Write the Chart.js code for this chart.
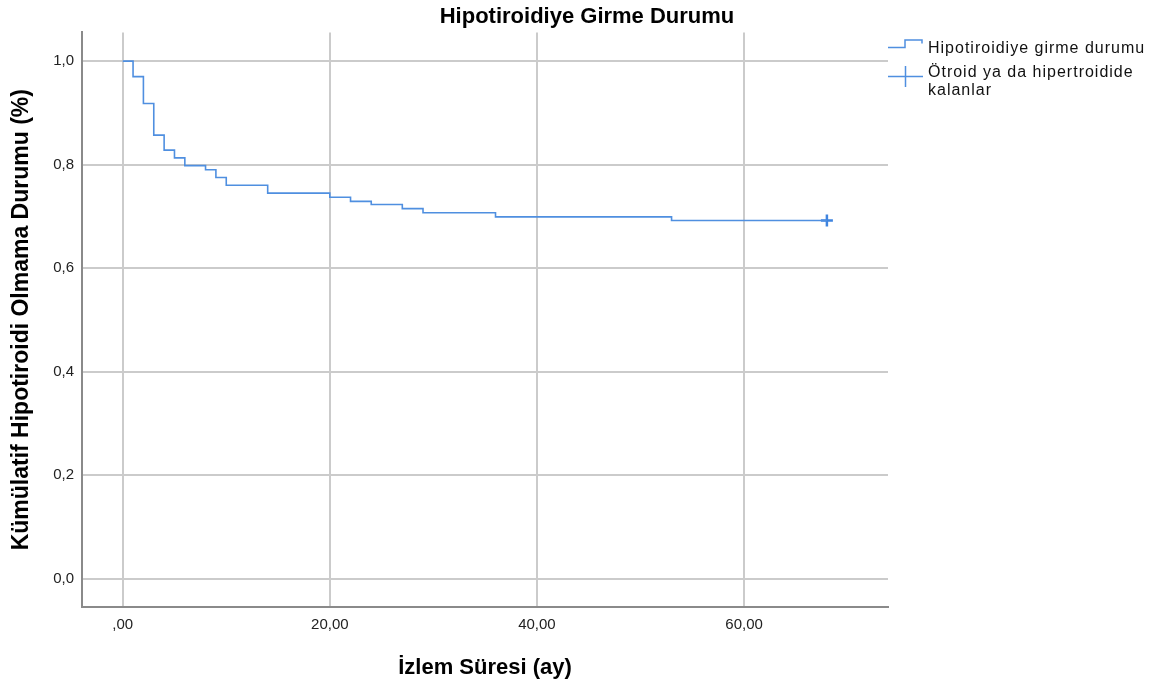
<!DOCTYPE html>
<html>
<head>
<meta charset="utf-8">
<script src="https://cdn.jsdelivr.net/npm/chart.js@4"></script>
<style>
  html, body { margin: 0; padding: 0; background: #ffffff; }
  #wrap { width: 1163px; height: 684px; position: relative; }
</style>
</head>
<body>
<div id="wrap"><canvas id="c" width="1163" height="684"></canvas></div>
<script>
// ---- data ----
const chartTitle = 'Hipotiroidiye Girme Durumu';
const xAxisTitle = 'İzlem Süresi (ay)';
const yAxisTitle = 'Kümülatif Hipotiroidi Olmama Durumu (%)';
const seriesLabel = 'Hipotiroidiye girme durumu';
const censorLabel = ['Ötroid ya da hipertroidide', 'kalanlar'];

const eventTimes = [0, 1, 2, 3, 4, 5, 6, 8, 9, 10, 14, 20, 22, 24, 27, 29, 36, 53, 68];
const survival   = [1.0, 0.970, 0.918, 0.857, 0.828, 0.813, 0.798, 0.790, 0.775, 0.760,
                    0.745, 0.737, 0.729, 0.723, 0.715, 0.707, 0.699, 0.692, 0.692];
const censorTimes  = [68];
const censorValues = [0.692];

const xTickValues = [0, 20, 40, 60];
const xTickLabels = [',00', '20,00', '40,00', '60,00'];
const yTickValues = [0, 0.2, 0.4, 0.6, 0.8, 1.0];
const yTickLabels = ['0,0', '0,2', '0,4', '0,6', '0,8', '1,0'];

const FONT = "'Liberation Sans', Arial, sans-serif";
const LINE_COLOR = '#4f8fe0';

const kmPoints = eventTimes.map((t, i) => ({ x: t, y: survival[i] }));
const censorPoints = censorTimes.map((t, i) => ({ x: t, y: censorValues[i] }));

const legendPlugin = {
  id: 'spssLegend',
  afterDraw(chart) {
    const ctx = chart.ctx;
    ctx.save();
    ctx.strokeStyle = LINE_COLOR;
    ctx.lineWidth = 1.5;
    // step icon
    ctx.beginPath();
    ctx.moveTo(888, 47.5);
    ctx.lineTo(905, 47.5);
    ctx.lineTo(905, 40);
    ctx.lineTo(922, 40);
    ctx.lineTo(922, 43.5);
    ctx.stroke();
    // cross icon
    ctx.beginPath();
    ctx.moveTo(888, 76.5);
    ctx.lineTo(923, 76.5);
    ctx.moveTo(905.5, 66);
    ctx.lineTo(905.5, 87);
    ctx.stroke();
    ctx.fillStyle = '#111';
    ctx.font = '16px ' + FONT;
    ctx.textAlign = 'left';
    ctx.textBaseline = 'alphabetic';
    if ('letterSpacing' in ctx) ctx.letterSpacing = '1px';
    ctx.fillText(seriesLabel, 928, 53);
    ctx.fillText(censorLabel[0], 928, 77);
    ctx.fillText(censorLabel[1], 928, 95);
    ctx.restore();
  }
};

new Chart(document.getElementById('c'), {
  type: 'scatter',
  data: {
    datasets: [
      {
        label: seriesLabel,
        data: kmPoints,
        showLine: true,
        stepped: true,
        borderColor: LINE_COLOR,
        backgroundColor: LINE_COLOR,
        borderWidth: 1.6,
        pointRadius: 0,
        pointHoverRadius: 0,
        fill: false
      },
      {
        label: censorLabel.join(' '),
        data: censorPoints,
        showLine: false,
        pointStyle: 'cross',
        pointRadius: 6,
        pointBorderWidth: 2.5,
        borderColor: '#3f84df',
        backgroundColor: '#3f84df'
      }
    ]
  },
  options: {
    responsive: false,
    animation: false,
    devicePixelRatio: 1,
    layout: { padding: { left: 11, right: 0, top: 0, bottom: 0 } },
    plugins: {
      legend: { display: false },
      tooltip: { enabled: false },
      title: {
        display: true,
        text: chartTitle,
        color: '#000',
        font: { family: FONT, size: 22, weight: 'bold' },
        padding: { top: 4, bottom: 2 }
      }
    },
    scales: {
      x: {
        type: 'linear',
        min: -3.93,
        max: 73.9,
        afterFit(scale) { scale.height = 77; },
        afterBuildTicks(scale) { scale.ticks = xTickValues.map(v => ({ value: v })); },
        ticks: {
          padding: 9,
          color: '#222',
          font: { family: FONT, size: 15 },
          callback(value) {
            const i = xTickValues.indexOf(value);
            return i >= 0 ? xTickLabels[i] : '';
          }
        },
        grid: { color: '#cbcbcb', lineWidth: 2, drawTicks: false },
        border: { display: true, color: '#8a8a8a', width: 2 },
        title: {
          display: true,
          text: xAxisTitle,
          color: '#000',
          font: { family: FONT, size: 22, weight: 'bold' },
          padding: { top: 0, bottom: 3 }
        }
      },
      y: {
        type: 'linear',
        position: 'left',
        min: -0.0546,
        max: 1.0554,
        afterFit(scale) { scale.width = 71; },
        afterBuildTicks(scale) { scale.ticks = yTickValues.map(v => ({ value: v })); },
        ticks: {
          padding: 8,
          color: '#222',
          font: { family: FONT, size: 15 },
          callback(value) {
            const i = yTickValues.findIndex(v => Math.abs(v - value) < 1e-9);
            return i >= 0 ? yTickLabels[i] : '';
          }
        },
        grid: { color: '#cbcbcb', lineWidth: 2, drawTicks: false },
        border: { display: true, color: '#8a8a8a', width: 2 },
        title: {
          display: true,
          text: yAxisTitle,
          color: '#000',
          font: { family: FONT, size: 23, weight: 'bold', lineHeight: 0.9 },
          padding: { top: 0, bottom: 0 }
        }
      },
      legendSpace: {
        type: 'linear',
        position: 'right',
        min: 0,
        max: 1,
        afterFit(scale) { scale.width = 275; },
        ticks: { display: false },
        grid: { display: false, drawTicks: false },
        border: { display: false },
        title: { display: false }
      }
    }
  },
  plugins: [legendPlugin]
});
</script>
</body>
</html>
